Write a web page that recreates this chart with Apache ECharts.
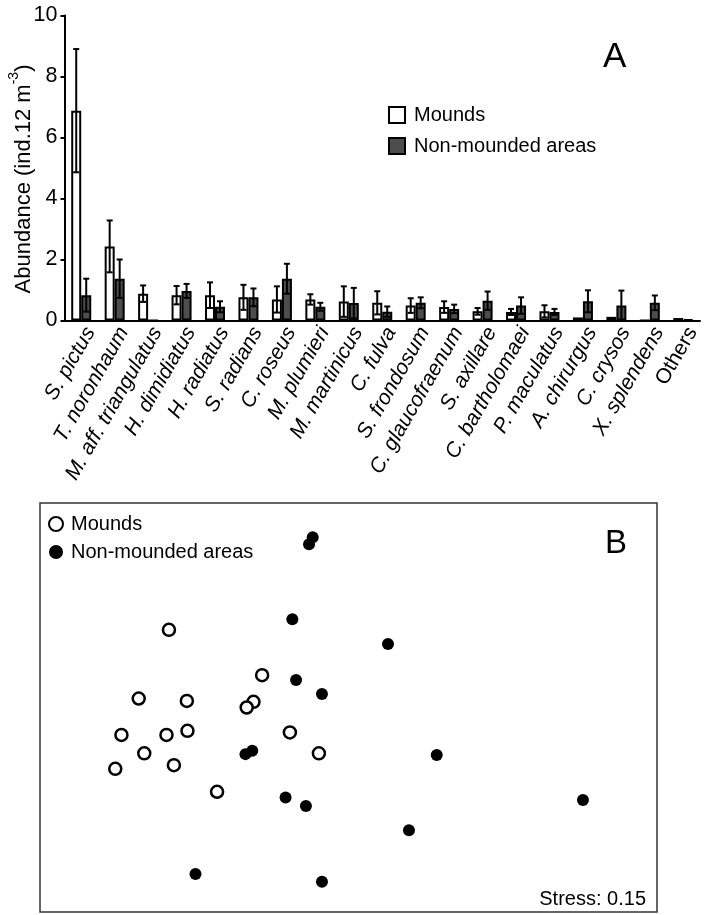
<!DOCTYPE html>
<html><head><meta charset="utf-8">
<script src="https://cdn.jsdelivr.net/npm/echarts@6/dist/echarts.min.js"></script>
<style>html,body{margin:0;padding:0;background:#fff}#c{width:708px;height:915px}</style>
</head><body><div id="c"></div>
<script>
const species = ['S. pictus','T. noronhaum','M. aff. triangulatus','H. dimidiatus','H. radiatus','S. radians','C. roseus','M. plumieri','M. martinicus','C. fulva','S. frondosum','C. glaucofraenum','S. axillare','C. bartholomaei','P. maculatus','A. chirurgus','C. crysos','X. splendens','Others'];
const moundMean = [6.88,2.43,0.88,0.83,0.83,0.76,0.69,0.69,0.62,0.58,0.49,0.44,0.30,0.28,0.30,0.10,0.12,0,0.08];
const moundErr  = [2.02,0.85,0.27,0.30,0.42,0.41,0.43,0.17,0.50,0.38,0.24,0.19,0.11,0.10,0.20,0,0,0,0];
const nonMean   = [0.83,1.37,0,0.97,0.45,0.76,1.37,0.45,0.57,0.29,0.58,0.38,0.65,0.49,0.28,0.63,0.49,0.58,0.04];
const nonErr    = [0.54,0.63,0,0.23,0.18,0.29,0.49,0.13,0.50,0.17,0.18,0.14,0.30,0.27,0.10,0.36,0.49,0.24,0];
const yTicks = [0,2,4,6,8,10];

// NMDS ordination (relative units, 0-100)
const moundsX = [20.9,36.0,16.0,23.8,34.6,33.5,13.2,20.5,23.9,40.5,16.9,45.2,12.2,21.7,28.7];
const moundsY = [69.0,57.9,52.2,51.6,51.4,50.0,43.3,43.3,44.3,43.9,38.8,38.8,35.0,35.9,29.4];
const nonX = [44.2,43.6,40.9,41.5,45.7,33.3,34.4,39.8,43.1,25.2,45.7,56.4,64.3,88.0,59.8];
const nonY = [91.6,89.9,71.6,56.7,53.3,38.6,39.4,28.0,25.9,9.3,7.4,65.5,38.4,27.4,20.0];

const FONT = 'Liberation Sans, Arial, Helvetica, sans-serif';
const DARK = '#4d4d4d';

function errSeries(name, means, errs, offset) {
  return {
    type: 'custom', name: name + ' err', xAxisIndex: 0, yAxisIndex: 0, z: 5, silent: true,
    data: means.map((v, i) => [i, v, errs[i]]),
    renderItem: function (params, api) {
      const i = api.value(0), v = api.value(1), e = api.value(2);
      if (!e) return null;
      const t = api.coord([i, v + e]);
      const b = api.coord([i, Math.max(0, v - e)]);
      const x = t[0] + offset;
      const st = { stroke: '#000', lineWidth: 2 };
      return { type: 'group', children: [
        { type: 'line', shape: { x1: x, y1: t[1], x2: x, y2: b[1] }, style: st },
        { type: 'line', shape: { x1: x - 3, y1: t[1], x2: x + 3, y2: t[1] }, style: st },
        { type: 'line', shape: { x1: x - 3, y1: b[1], x2: x + 3, y2: b[1] }, style: st }
      ]};
    }
  };
}

const chart = echarts.init(document.getElementById('c'), null, { renderer: 'canvas' });
chart.setOption({
  animation: false,
  textStyle: { fontFamily: FONT, color: '#000' },
  grid: [
    { left: 64.5, right: 8, top: 15.5, bottom: 594.5, containLabel: false, outerBoundsMode: 'none' },
    { left: 40, right: 51, top: 503, bottom: 3, show: true, borderColor: '#333', borderWidth: 1.5, backgroundColor: '#fff', containLabel: false, outerBoundsMode: 'none' }
  ],
  legend: [
    { data: ['Mounds', 'Non-mounded areas'], orient: 'vertical', left: 383, top: 100, itemWidth: 16, itemHeight: 16, itemGap: 11,
      textStyle: { fontSize: 20, fontFamily: FONT, color: '#000', padding: [0, 0, 0, 4] }, icon: 'rect', selectedMode: false },
    { data: ['Mounds ', 'Non-mounded areas '], orient: 'vertical', left: 43, top: 509, itemWidth: 14, itemHeight: 14, itemGap: 8,
      textStyle: { fontSize: 20, fontFamily: FONT, color: '#000', padding: [0, 0, 0, 3] }, icon: 'circle', selectedMode: false }
  ],
  xAxis: [
    { type: 'category', gridIndex: 0, data: species,
      axisLine: { lineStyle: { color: '#000', width: 2 } },
      axisTick: { length: 5, lineStyle: { color: '#000', width: 2 } },
      axisLabel: { interval: 0, rotate: 60, margin: 3, color: '#000', verticalAlign: 'top',
        formatter: n => n === 'Others' ? '{n|' + n + '}' : '{i|' + n + '}',
        rich: { i: { fontSize: 21, fontStyle: 'italic', fontFamily: FONT, color: '#000' },
                n: { fontSize: 21, fontFamily: FONT, color: '#000' } } } },
    { type: 'value', gridIndex: 1, min: 0, max: 100, show: false }
  ],
  yAxis: [
    { type: 'value', gridIndex: 0, min: yTicks[0], max: yTicks[yTicks.length - 1], interval: 2,
      splitLine: { show: false },
      axisLine: { show: true, lineStyle: { color: '#000', width: 2 } },
      axisTick: { show: true, length: 4, lineStyle: { color: '#000', width: 2 } },
      axisLabel: { fontSize: 21.5, color: '#000', margin: 7, fontFamily: FONT },
      name: '{a|Abundance (ind.12 m}{s|-3}{a|)}', nameLocation: 'middle', nameGap: 30, nameRotate: 90, nameMoveOverlap: false,
      nameTextStyle: { padding: [0, 22, 0, 0], rich: {
        a: { fontSize: 22, fontFamily: FONT, color: '#000', lineHeight: 27, verticalAlign: 'bottom' },
        s: { fontSize: 14, fontFamily: FONT, color: '#000', lineHeight: 27, verticalAlign: 'top' } } } },
    { type: 'value', gridIndex: 1, min: 0, max: 100, show: false }
  ],
  series: [
    { type: 'bar', name: 'Mounds', xAxisIndex: 0, yAxisIndex: 0, data: moundMean, barWidth: 10, barGap: '0%',
      itemStyle: { color: '#fff', borderColor: '#000', borderWidth: 2 } },
    { type: 'bar', name: 'Non-mounded areas', xAxisIndex: 0, yAxisIndex: 0, data: nonMean, barWidth: 10, barGap: '0%',
      itemStyle: { color: DARK, borderColor: '#000', borderWidth: 2 } },
    errSeries('Mounds', moundMean, moundErr, -5),
    errSeries('Non-mounded areas', nonMean, nonErr, 5),
    { type: 'scatter', name: 'Mounds ', xAxisIndex: 1, yAxisIndex: 1, symbol: 'circle', symbolSize: 12,
      data: moundsX.map((x, i) => [x, moundsY[i]]),
      itemStyle: { color: '#fff', borderColor: '#000', borderWidth: 2.5, opacity: 1 } },
    { type: 'scatter', name: 'Non-mounded areas ', xAxisIndex: 1, yAxisIndex: 1, symbol: 'circle', symbolSize: 12,
      data: nonX.map((x, i) => [x, nonY[i]]),
      itemStyle: { color: '#000', opacity: 1 } }
  ],
  graphic: [
    { type: 'text', left: 603, top: 40, style: { text: 'A', fontSize: 35, fontFamily: FONT, fill: '#000' } },
    { type: 'text', left: 605, top: 527, style: { text: 'B', fontSize: 33, fontFamily: FONT, fill: '#000' } },
    { type: 'text', right: 62, top: 889, style: { text: 'Stress: 0.15', fontSize: 20, fontFamily: FONT, fill: '#000' } }
  ]
});
</script></body></html>
